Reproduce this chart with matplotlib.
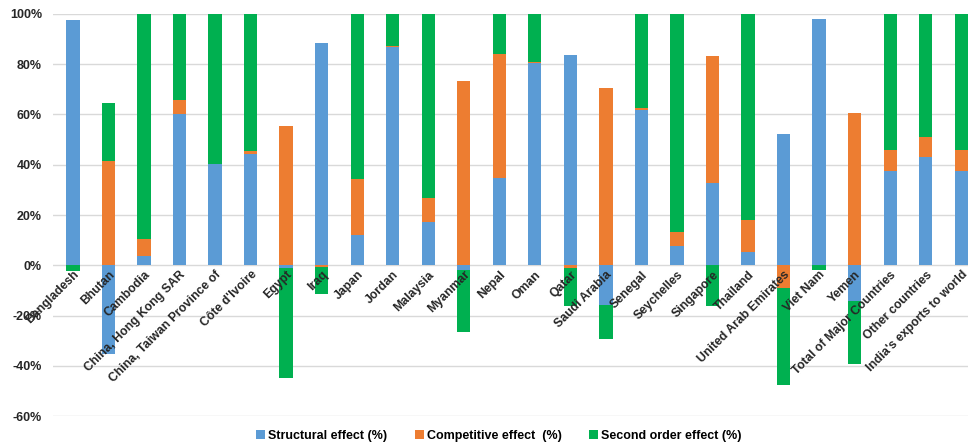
import numpy as np
import matplotlib
matplotlib.use("Agg")
import matplotlib.pyplot as plt
from matplotlib.ticker import FuncFormatter

plt.rcParams["font.family"] = ["Liberation Sans", "DejaVu Sans"]

countries = [
    "Bangladesh", "Bhutan", "Cambodia", "China, Hong Kong SAR",
    "China, Taiwan Province of", "Côte d'Ivoire", "Egypt", "Iraq", "Japan",
    "Jordan", "Malaysia", "Myanmar", "Nepal", "Oman", "Qatar", "Saudi Arabia",
    "Senegal", "Seychelles", "Singapore", "Thailand", "United Arab Emirates",
    "Viet Nam", "Yemen", "Total of Major Countries", "Other countries",
    "India's exports to world",
]

structural = [97.7, -35.4, 3.8, 60.3, 40.3, 44.2, -1.1, 88.5, 12.2, 87.0,
              17.4, -1.9, 34.9, 80.4, 83.8, -15.9, 61.8, 7.7, 32.7, 5.2,
              52.1, 98.1, -14.2, 37.4, 43.1, 37.6]
competitive = [0.0, 41.4, 6.8, 5.5, 0.0, 1.3, 55.3, -0.5, 22.3, 0.4,
               9.3, 73.2, 49.1, 0.5, -1.0, 70.5, 0.6, 5.4, 50.7, 12.8,
               -9.0, 0.0, 60.6, 8.5, 7.8, 8.4]
second_order = [-2.3, 23.0, 89.4, 34.2, 59.7, 54.5, -43.6, -10.8, 65.5, 12.6,
                73.3, -24.8, 16.0, 19.1, -15.1, -13.4, 37.6, 86.9, -16.2, 82.0,
                -38.6, -1.7, -25.1, 54.1, 49.1, 54.0]

series = [
    ("Structural effect (%)", structural, "#5B9BD5"),
    ("Competitive effect  (%)", competitive, "#ED7D31"),
    ("Second order effect (%)", second_order, "#00B050"),
]

W, H = 968, 448
fig = plt.figure(figsize=(W / 100, H / 100), dpi=100)
ax = fig.add_axes([53 / W, 32 / H, 926 / W, 402 / H])

x = np.arange(len(countries))
pos_base = np.zeros(len(countries))
neg_base = np.zeros(len(countries))
handles = []
for name, vals, color in series:
    v = np.asarray(vals, dtype=float)
    bottom = np.where(v >= 0, pos_base, neg_base)
    b = ax.bar(x, v, width=0.375, bottom=bottom, color=color, label=name,
               zorder=3)
    handles.append(b)
    pos_base = pos_base + np.where(v >= 0, v, 0)
    neg_base = neg_base + np.where(v < 0, v, 0)

ax.set_xlim(-0.56, 25.5)
ax.set_ylim(-60, 100)
ax.set_yticks(np.arange(-60, 101, 20))
ax.yaxis.set_major_formatter(FuncFormatter(lambda v, _: f"{v:.0f}%"))
ax.grid(axis="y", color="#D9D9D9", linewidth=1.0, zorder=0)
for s in ax.spines.values():
    s.set_visible(False)
ax.tick_params(axis="y", length=0, pad=8, labelsize=9, labelcolor="#262626")
ax.tick_params(axis="x", length=0, labelbottom=False)
for lbl in ax.get_yticklabels():
    lbl.set_fontweight("bold")

# Category labels sit next to the zero line, slanted at 45 degrees
for xi, name in zip(x, countries):
    ax.text(xi, -1.4, name, rotation=45, rotation_mode="anchor",
            ha="right", va="top", fontsize=8.8, fontweight="bold",
            color="#262626", zorder=5)

fig.legend(handles=handles, loc="center", bbox_to_anchor=(499 / W, 1 - 436 / H),
           ncol=3, frameon=False, handlelength=0.7,
           handleheight=0.7, columnspacing=2.2, handletextpad=0.25,
           prop={"weight": "bold", "size": 9})

fig.savefig("out.png", dpi=100)
